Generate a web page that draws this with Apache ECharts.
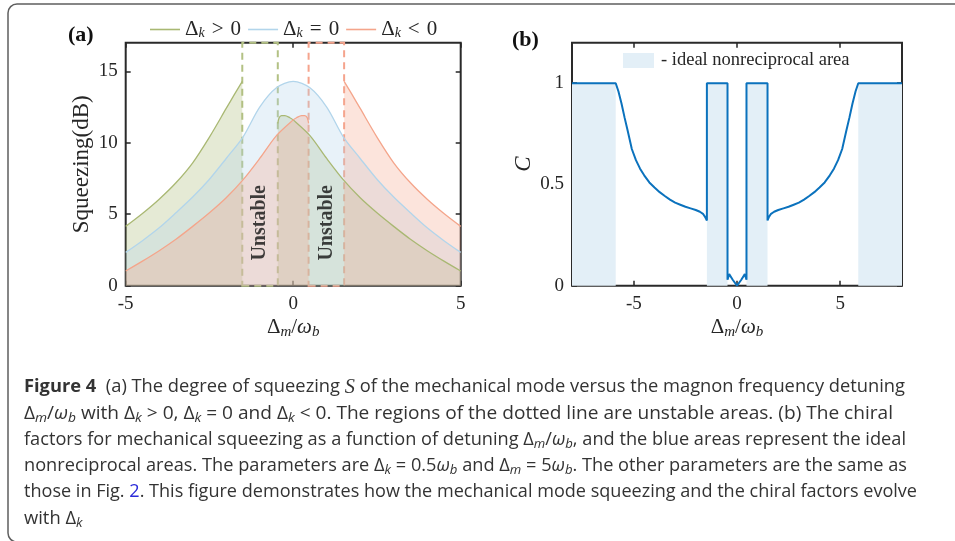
<!DOCTYPE html>
<html><head><meta charset="utf-8">
<script src="https://cdn.jsdelivr.net/npm/echarts@6/dist/echarts.min.js"></script>
<style>html,body{margin:0;padding:0;background:#fff}#c{width:955px;height:541px}</style>
</head><body><div id="c"></div>
<script>
// ---------- Panel (a): squeezing (dB) vs Δm/ωb ----------
const greenX = [-5,-4.5,-4,-3.5,-3,-2.5,-2,-1.75,-1.52,-1.0,-0.46,-0.42,-0.35,-0.25,-0.1,0,0.5,1,1.5,2,2.5,3,3.5,4,4.5,5];
const greenY = [4.15,5.05,6.05,7.2,8.6,10.4,12.4,13.4,14.3,null,11.35,11.75,11.9,11.9,11.75,11.6,10.5,8.9,7.4,6.15,5.1,4.15,3.25,2.45,1.72,1.03];
const blueX = [-5,-4.5,-4,-3.5,-3,-2.5,-2,-1.5,-1,-0.5,0,0.5,1,1.5,2,2.5,3,3.5,4,4.5,5];
const blueY = [2.33,3.15,4.05,5.1,6.2,7.45,8.9,10.4,12.5,13.85,14.3,13.85,12.5,10.4,8.9,7.45,6.2,5.1,4.05,3.15,2.33];
const redX = [-5,-4.5,-4,-3.5,-3,-2.5,-2,-1.5,-1,-0.5,0,0.1,0.25,0.35,0.42,0.46,1.0,1.52,1.75,2,2.5,3,3.5,4,4.5,5];
const redY = [1.03,1.72,2.45,3.25,4.15,5.1,6.15,7.4,8.9,10.5,11.6,11.75,11.9,11.9,11.75,11.35,null,14.3,13.4,12.4,10.4,8.6,7.2,6.05,5.05,4.15];
const unstableGreen = [-1.52,-0.46];
const unstableRed = [0.46,1.52];
const unstableLabelX = [-0.99, 0.99];
const unstableLabelY = 4.4;
const seriesNamesA = ['Δk > 0','Δk = 0','Δk < 0'];
const xTicksA = [-5,0,5];
const yTicksA = [0,5,10,15];

// ---------- Panel (b): chiral factor C ----------
const cX = [-8,-5.88,-5.75,-5.6,-5.45,-5.3,-5.1,-4.9,-4.7,-4.5,-4.25,-4,-3.75,-3.5,-3.25,-3,-2.75,-2.5,-2.25,-2,-1.8,-1.65,-1.55,-1.46,-1.46,-0.46,-0.46,-0.38,-0.2,0,
            0.2,0.38,0.46,0.46,1.48,1.48,1.55,1.65,1.8,2,2.25,2.5,2.75,3,3.25,3.5,3.75,4,4.25,4.5,4.7,4.9,5.1,5.3,5.45,5.6,5.75,5.88,8];
const cY = [1,1,0.96,0.9,0.83,0.765,0.675,0.62,0.578,0.545,0.51,0.485,0.462,0.443,0.425,0.41,0.4,0.39,0.382,0.374,0.365,0.355,0.34,0.322,1,1,0.03,0.057,0.028,0,
            0.028,0.057,0.03,1,1,0.322,0.34,0.355,0.365,0.374,0.382,0.39,0.4,0.41,0.425,0.443,0.462,0.485,0.51,0.545,0.578,0.62,0.675,0.765,0.83,0.9,0.96,1,1];
const shadeStart = [-8,-1.46,0.46,5.88];
const shadeEnd = [-5.88,-0.46,1.48,8];
const xTicksB = [-5,0,5];
const yTicksB = [0,0.5,1];

const pairs = (xs, ys) => xs.map((x,i)=>[x, ys[i]===null ? '-' : ys[i]]);

const SERIF = 'Liberation Serif';
const AX = '#262626';
const cGreen = '#a9b873', cBlue = '#b2d5eb', cRed = '#f4a58b';

function mathRich(size){
  return {
    d:{fontFamily:SERIF,fontSize:size,color:AX,verticalAlign:'middle'},
    w:{fontFamily:SERIF,fontSize:size,fontStyle:'italic',color:AX,verticalAlign:'middle'},
    s:{fontFamily:SERIF,fontSize:Math.round(size*0.7),fontStyle:'italic',color:AX,verticalAlign:'middle',padding:[Math.round(size*0.45),0,0,0]}
  };
}
const xNameStr = '{d|Δ}{s|m}{d|/}{w|ω}{s|b}';

function xAxisPair(grid, min, max, ticks){
  return [
    {gridIndex:grid,type:'value',min,max,position:'bottom',
     axisLine:{show:false,onZero:false},splitLine:{show:false},
     axisTick:{show:true,inside:true,length:5,lineStyle:{color:AX,width:1.5},customValues:ticks},
     axisLabel:{show:true,color:AX,fontFamily:SERIF,fontSize:19,margin:9,customValues:ticks},
     name:xNameStr,nameLocation:'middle',nameGap:30,
     nameTextStyle:{rich:mathRich(21)}},
    {gridIndex:grid,type:'value',min,max,position:'top',
     axisLine:{show:false,onZero:false},splitLine:{show:false},
     axisTick:{show:true,inside:true,length:5,lineStyle:{color:AX,width:1.5},customValues:ticks},
     axisLabel:{show:false}}
  ];
}
function yAxisPair(grid, min, max, ticks, name, nameGap, nameStyle){
  return [
    {gridIndex:grid,type:'value',min,max,position:'left',
     axisLine:{show:false,onZero:false},splitLine:{show:false},
     axisTick:{show:true,inside:true,length:5,lineStyle:{color:AX,width:1.5},customValues:ticks},
     axisLabel:{show:true,color:AX,fontFamily:SERIF,fontSize:19,margin:8,customValues:ticks},
     name,nameLocation:'middle',nameGap,nameTextStyle:nameStyle},
    {gridIndex:grid,type:'value',min,max,position:'right',
     axisLine:{show:false,onZero:false},splitLine:{show:false},
     axisTick:{show:true,inside:true,length:5,lineStyle:{color:AX,width:1.5},customValues:ticks},
     axisLabel:{show:false}}
  ];
}

function areaSeries(name, xs, ys, color){
  return {name,type:'line',xAxisIndex:0,yAxisIndex:0,data:pairs(xs,ys),
    showSymbol:false,symbol:'none',smooth:0.3,connectNulls:false,
    lineStyle:{color,width:1.3},itemStyle:{color},
    areaStyle:{color,opacity:0.3},z:2};
}
function dashedBox(range,color){
  return {type:'line',xAxisIndex:0,yAxisIndex:0,data:[],silent:true,z:4,
    markArea:{silent:true,itemStyle:{color:'rgba(0,0,0,0)',borderColor:color,borderWidth:2,borderType:[7,5]},
      label:{show:false},
      data:[[{xAxis:range[0],yAxis:0},{xAxis:range[1],yAxis:17}]]}};
}

// caption
const CAPC = '#333';
const capRich = {
  n:{fontFamily:'Open Sans',fontSize:18,fill:CAPC,verticalAlign:'middle'},
  b:{fontFamily:'Open Sans',fontSize:18,fontWeight:'bold',fill:CAPC,verticalAlign:'middle'},
  i:{fontFamily:'Open Sans',fontSize:18,fontStyle:'italic',fill:CAPC,verticalAlign:'middle'},
  S:{fontFamily:SERIF,fontSize:20,fontStyle:'italic',fill:CAPC,verticalAlign:'middle'},
  s:{fontFamily:'Open Sans',fontSize:13,fontStyle:'italic',fill:CAPC,verticalAlign:'middle',padding:[9,0,0,0]},
  l:{fontFamily:'Open Sans',fontSize:18,fill:'#2b2bd9',verticalAlign:'middle'}
};
const capLines = [
  [['b','Figure 4'],['n','  (a) The degree of squeezing '],['S','S'],['n',' of the mechanical mode versus the magnon frequency detuning']],
  [['n','Δ'],['s','m'],['n','/'],['i','ω'],['s','b'],['n',' with Δ'],['s','k'],['n',' > 0, Δ'],['s','k'],['n',' = 0 and Δ'],['s','k'],['n',' < 0. The regions of the dotted line are unstable areas. (b) The chiral']],
  [['n','factors for mechanical squeezing as a function of detuning Δ'],['s','m'],['n','/'],['i','ω'],['s','b'],['n',', and the blue areas represent the ideal']],
  [['n','nonreciprocal areas. The parameters are Δ'],['s','k'],['n',' = 0.5'],['i','ω'],['s','b'],['n',' and Δ'],['s','m'],['n',' = 5'],['i','ω'],['s','b'],['n','. The other parameters are the same as']],
  [['n','those in Fig. '],['l','2'],['n','. This figure demonstrates how the mechanical mode squeezing and the chiral factors evolve']],
  [['n','with Δ'],['s','k']]
];
const capRight = [905,893,906,907,917,null];
const capBase = [393.3,419.6,445.8,472.1,498.3,524.6];
const CAPX = 24;
const mctx = document.createElement('canvas').getContext('2d');
function segW(st, t){
  const s = capRich[st];
  mctx.font = (s.fontStyle||'normal')+' '+(s.fontWeight||'normal')+' '+s.fontSize+'px "'+s.fontFamily+'"';
  return mctx.measureText(t).width;
}
const scales = capLines.map((ln,i)=>{
  if(capRight[i]===null) return null;
  const w = ln.reduce((a,[st,t])=>a+segW(st,t),0);
  return (capRight[i]-CAPX)/w;
});
const avgScale = scales.filter(v=>v).reduce((a,b)=>a+b,0)/scales.filter(v=>v).length;
const capGraphics = capLines.map((ln,i)=>({
  type:'text',x:CAPX,y:capBase[i]-6,scaleX:scales[i]||avgScale,
  style:{text:ln.map(([st,t])=>'{'+st+'|'+t+'}').join(''),rich:capRich,verticalAlign:'middle',align:'left'}
}));

const legendRich = {
  d:{fontFamily:SERIF,fontSize:21,color:AX,verticalAlign:'middle'},
  s:{fontFamily:SERIF,fontSize:14,fontStyle:'italic',color:AX,verticalAlign:'middle',padding:[8,0,0,0]}
};

const option = {
  animation:false,
  backgroundColor:'#fff',
  grid:[
    {left:125.7,top:42.7,width:335,height:243,show:true,borderColor:'#2a2a2a',borderWidth:2,backgroundColor:'rgba(0,0,0,0)',outerBoundsMode:'none'},
    {left:572,top:42.7,width:330,height:243,show:true,borderColor:'#2a2a2a',borderWidth:2,backgroundColor:'rgba(0,0,0,0)',outerBoundsMode:'none'}
  ],
  xAxis:[...xAxisPair(0,-5,5,xTicksA), ...xAxisPair(1,-8,8,xTicksB)],
  yAxis:[...yAxisPair(0,0,17,yTicksA,'Squeezing(dB)',32,{fontFamily:SERIF,fontSize:23,color:AX}),
         ...yAxisPair(1,0,1.2,yTicksB,'C',37,{fontFamily:SERIF,fontSize:23,fontStyle:'italic',color:AX})],
  legend:{left:150,top:19,padding:0,itemWidth:30,itemHeight:1.6,itemGap:7,icon:'rect',
    data:seriesNamesA,
    formatter:(n)=>'{d|Δ}{s|k}{d|\u2004'+n.slice(3,4)+'\u2004'+n.slice(5)+'}',
    textStyle:{rich:legendRich,fontFamily:SERIF,fontSize:21,color:AX}},
  series:[
    areaSeries(seriesNamesA[0],greenX,greenY,cGreen),
    areaSeries(seriesNamesA[1],blueX,blueY,cBlue),
    areaSeries(seriesNamesA[2],redX,redY,cRed),
    dashedBox(unstableGreen,'#b3c184'),
    dashedBox(unstableRed,'#f5a48d'),
    {type:'scatter',xAxisIndex:0,yAxisIndex:0,symbolSize:0,silent:true,z:5,
     data:unstableLabelX.map(x=>[x,unstableLabelY]),
     label:{show:true,position:'inside',rotate:90,formatter:'Unstable',fontFamily:SERIF,fontWeight:'bold',fontSize:20,color:'#111'}},
    {type:'line',xAxisIndex:2,yAxisIndex:2,data:[],silent:true,z:1,
     markArea:{silent:true,itemStyle:{color:'#e3eff7'},label:{show:false},
       data:shadeStart.map((s,i)=>[{xAxis:s,yAxis:0},{xAxis:shadeEnd[i],yAxis:1}])}},
    {type:'line',xAxisIndex:2,yAxisIndex:2,data:pairs(cX,cY),showSymbol:false,symbol:'none',
     lineStyle:{color:'#0b72bd',width:2},itemStyle:{color:'#0b72bd'},z:3}
  ],
  graphic:[
    {type:'rect',shape:{x:8,y:4,width:1100,height:538,r:9},style:{fill:'none',stroke:'#5f5f5f',lineWidth:1.5},silent:true},
    {type:'text',x:68,y:35,style:{text:'(a)',fontFamily:SERIF,fontWeight:'bold',fontSize:22,fill:'#111',verticalAlign:'middle'}},
    {type:'text',x:512,y:40,style:{text:'(b)',fontFamily:SERIF,fontWeight:'bold',fontSize:22,fill:'#111',verticalAlign:'middle'}},
    {type:'rect',shape:{x:623,y:53,width:31,height:15},style:{fill:'#e3eff7'},silent:true},
    {type:'text',x:661,y:60.5,style:{text:'- ideal nonreciprocal area',fontFamily:SERIF,fontSize:18.5,fill:AX,verticalAlign:'middle'}},
    ...capGraphics
  ]
};
const chart = echarts.init(document.getElementById('c'),null,{renderer:'canvas'});
chart.setOption(option);
</script></body></html>
